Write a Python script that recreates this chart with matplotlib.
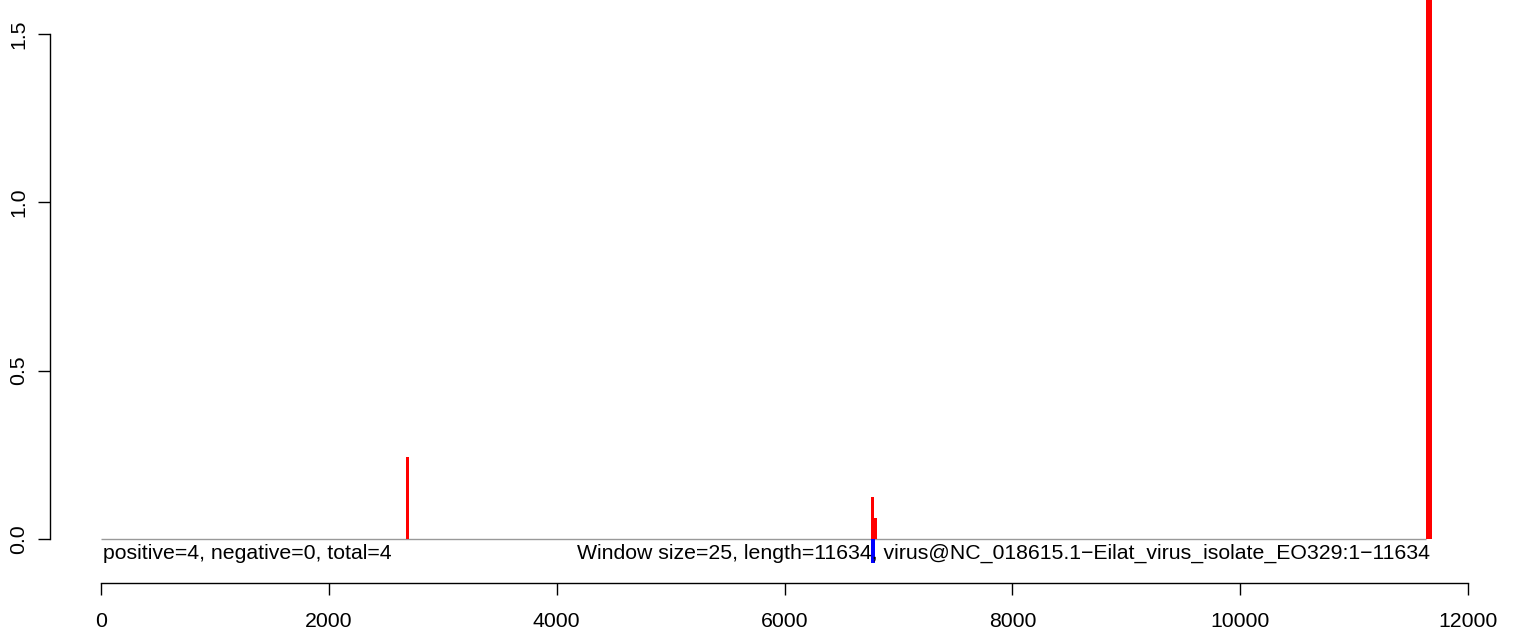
import matplotlib
matplotlib.use("Agg")
import matplotlib.pyplot as plt
from matplotlib.transforms import offset_copy

plt.rcParams['font.family'] = ['Liberation Sans', 'DejaVu Sans']

# ---- data ----
seq_length = 11634
pos_x = [2690, 6772, 6797, 11659]
pos_h = [0.245, 0.124, 0.062, 1.9]
pos_w = [25, 25, 25, 50]
neg_x = [6777]
neg_h = [-0.072]
neg_w = [35]
xticks = [0, 2000, 4000, 6000, 8000, 10000, 12000]
yticks = [0.0, 0.5, 1.0, 1.5]
ytick_labels = ["0.0", "0.5", "1.0", "1.5"]
left_text = "positive=4, negative=0, total=4"
right_text = ("Window size=25, length=11634, "
              "virus@NC_018615.1\u2212Eilat_virus_isolate_EO329:1\u221211634")

FS = 15.3
W, H = 1533, 634
fig = plt.figure(figsize=(W / 100, H / 100), dpi=100)
ax_left, ax_bottom_px = 50, 583
ax = fig.add_axes([ax_left / W, (H - ax_bottom_px) / H, 1 - ax_left / W, ax_bottom_px / H])

ax.set_xlim(-447.7, 12570)
ax.set_ylim(-0.1307, 1.601)

# baseline
ax.hlines(0, 0, seq_length, color='#999999', lw=1.0, zorder=1)

ax.bar(pos_x, pos_h, width=pos_w, color='#ff0000', align='center', zorder=2, linewidth=0)
ax.bar(neg_x, neg_h, width=neg_w, color='#0000ff', align='center', zorder=2, linewidth=0)

t_left = offset_copy(ax.transData, fig=fig, x=2, y=0, units='dots')
ax.text(0, -0.0594, left_text, fontsize=FS, ha='left', va='baseline', transform=t_left, zorder=3)
t_right = offset_copy(ax.transData, fig=fig, x=4, y=0, units='dots')
ax.text(seq_length, -0.0594, right_text, fontsize=FS, ha='right', va='baseline', transform=t_right, zorder=3)

for s in ['top', 'right']:
    ax.spines[s].set_visible(False)
ax.spines['left'].set_bounds(0, 1.5)
ax.spines['bottom'].set_bounds(0, 12000)
for s in ['left', 'bottom']:
    ax.spines[s].set_linewidth(1.0)

ax.set_xticks(xticks)
ax.set_xticklabels([str(v) for v in xticks])
ax.set_yticks(yticks)
ax.set_yticklabels(ytick_labels, rotation=90, va='center')
ax.tick_params(axis='both', direction='out', length=8.6, width=1.0, labelsize=FS)
ax.tick_params(axis='x', pad=12)
ax.tick_params(axis='y', pad=7)
ax.patch.set_visible(False)

fig.savefig('out.png', dpi=100)
